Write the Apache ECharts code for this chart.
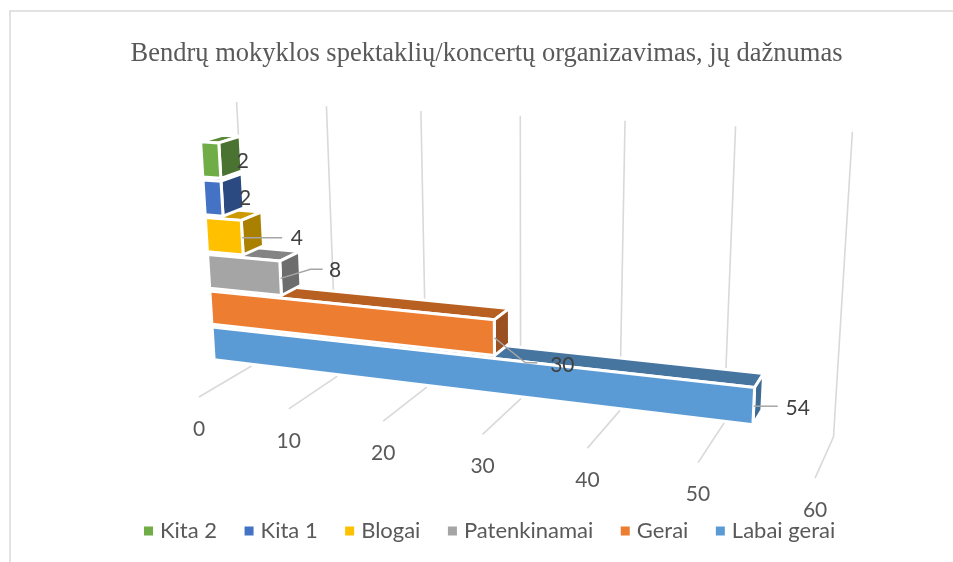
<!DOCTYPE html>
<html><head><meta charset="utf-8">
<style>html,body{margin:0;padding:0;background:#fff}#c{width:953px;height:562px}</style>
<script src="https://cdn.jsdelivr.net/npm/echarts@6/dist/echarts.min.js"></script>
</head><body><div id="c"></div>
<script>
// ---- data ----
const titleText = 'Bendrų mokyklos spektaklių/koncertų organizavimas, jų dažnumas';
const categories = ['Labai gerai', 'Gerai', 'Patenkinamai', 'Blogai', 'Kita 1', 'Kita 2'];
const values = [54, 30, 8, 4, 2, 2];
const tickValues = [0, 10, 20, 30, 40, 50, 60];
const legendOrder = ['Kita 2', 'Kita 1', 'Blogai', 'Patenkinamai', 'Gerai', 'Labai gerai'];

// ---- style ----
const frontColors = ['#5B9BD5', '#ED7D31', '#A5A5A5', '#FFC000', '#4472C4', '#70AD47'];
const topColors = ['#4675A0', '#B85F22', '#848484', '#CC9A00', '#34578F', '#5A8A38'];
const sideColors = ['#3D6B93', '#9A5020', '#6D6D6D', '#A98000', '#2B4A82', '#4A7230'];
const labelOffsets = [[44, 2], [68, 27], [54.5, -8], [54.5, 0], [23, 0], [23, 1]];
const leaderPaths = [[[0, 0], [24, 0]], [[0, 0], [31, 25], [43, 25]], [[0, 0], [30, -9], [42, -9]], [[0, 0], [40, 0]], null, null];
const FONT = 'Lato, Carlito, "Open Sans", sans-serif';
const W = 953, H = 562, AXIS_MAX = 60;

// ---- perspective camera: origin and the three vanishing points of the chart box ----
const ORIGIN = [199, 397], VP_VALUE = [-3373, -73], VP_DEPTH = [1086, -128], VP_HEIGHT = [526, 5408];
const K_VALUE = -0.1471, K_DEPTH = 0.0623, K_HEIGHT = -0.0529;
const BAR_FRONT = 0.31, BAR_BACK = 0.70, BAR_HALF = 0.463;
function persp(u, d, h) {
  const a = u * K_VALUE, b = d * K_DEPTH, c = h * K_HEIGHT;
  const w = 1 + a + b + c;
  return [
    (ORIGIN[0] + a * VP_VALUE[0] + b * VP_DEPTH[0] + c * VP_HEIGHT[0]) / w,
    (ORIGIN[1] + a * VP_VALUE[1] + b * VP_DEPTH[1] + c * VP_HEIGHT[1]) / w
  ];
}
// the plane of the cartesian grid (value, row) is carried through the camera at a given depth
function toScreen(api, value, row, depth) {
  const p = api.coord([value, row]);
  return persp(p[0] / W, depth, 1 - p[1] / H);
}

function renderBar(i) {
  return function (params, api) {
    const v = api.value(0), r = api.value(1);
    const lo = r - BAR_HALF, hi = r + BAR_HALF;
    const pt = (val, row, d) => toScreen(api, val, row, d);
    const ftl = pt(0, hi, BAR_FRONT), ftr = pt(v, hi, BAR_FRONT), fbl = pt(0, lo, BAR_FRONT), fbr = pt(v, lo, BAR_FRONT);
    const btl = pt(0, hi, BAR_BACK), btr = pt(v, hi, BAR_BACK), bbr = pt(v, lo, BAR_BACK);
    const face = (points, fill) => ({ type: 'polygon', shape: { points }, style: { fill, stroke: '#fff', lineWidth: 3, lineJoin: 'round' } });
    const anchor = pt(v, r, BAR_FRONT);
    const children = [
      face([ftl, ftr, btr, btl], topColors[i]),
      face([ftr, fbr, bbr, btr], sideColors[i]),
      face([ftl, ftr, fbr, fbl], frontColors[i])
    ];
    if (leaderPaths[i]) children.push({
      type: 'polyline',
      shape: { points: leaderPaths[i].map(o => [anchor[0] + o[0], anchor[1] + o[1]]) },
      style: { fill: 'none', stroke: '#A6A6A6', lineWidth: 1.5 }
    });
    const off = labelOffsets[i];
    children.push({
      type: 'text',
      style: { text: String(v), x: anchor[0] + off[0], y: anchor[1] + off[1], align: 'center', verticalAlign: 'middle', fill: '#404040', fontSize: 21, fontFamily: FONT }
    });
    return { type: 'group', children };
  };
}

function renderGrid(params, api) {
  const v = api.value(0);
  const yMin = -1.24, yMax = 6.23;
  const wallTop = toScreen(api, v, yMax, 1), wallFoot = toScreen(api, v, yMin, 1), floorFront = toScreen(api, v, yMin, 0);
  return {
    type: 'group',
    children: [
      { type: 'polyline', shape: { points: [wallTop, wallFoot, floorFront] }, style: { fill: 'none', stroke: '#D9D9D9', lineWidth: 1.6 } },
      { type: 'text', style: { text: String(v), x: floorFront[0], y: floorFront[1] + 32, align: 'center', verticalAlign: 'middle', fill: '#595959', fontSize: 21, fontFamily: FONT } }
    ]
  };
}

const chart = echarts.init(document.getElementById('c'));
chart.setOption({
  animation: false,
  backgroundColor: '#fff',
  title: {
    text: titleText, left: 481.5, top: 36, textAlign: 'center',
    textStyle: { fontFamily: '"Liberation Serif", serif', fontSize: 26.5, fontWeight: 'normal', color: '#595959' }
  },
  legend: {
    data: legendOrder, left: 139, top: 515, itemWidth: 9, itemHeight: 9, itemGap: 27.5, icon: 'rect',
    textStyle: { fontFamily: FONT, fontSize: 22, color: '#595959', padding: [0, 0, 0, 2] }
  },
  grid: { left: 0, right: 0, top: 0, bottom: 0, show: false },
  xAxis: { type: 'value', min: 0, max: AXIS_MAX, show: false },
  yAxis: { type: 'value', min: -1.24, max: 6.23, show: false },
  graphic: [
    { type: 'polyline', silent: true, shape: { points: [[10, 562], [10, 11], [953, 11]] }, style: { fill: 'none', stroke: '#D9D9D9', lineWidth: 1.5 } }
  ],
  series: [
    { type: 'custom', name: 'axis', z: 1, clip: false, silent: true, data: tickValues.map(t => [t]), encode: { x: 0 }, renderItem: renderGrid }
  ].concat(categories.map((name, i) => ({
    type: 'custom', name, z: 2 + i, clip: false, silent: true,
    itemStyle: { color: frontColors[i] },
    data: [[values[i], i]], encode: { x: 0, y: 1 },
    renderItem: renderBar(i)
  })))
});
</script></body></html>
